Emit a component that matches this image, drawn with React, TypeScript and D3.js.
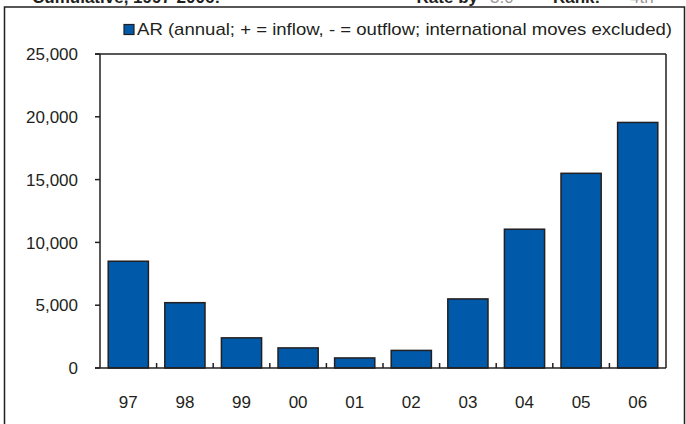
import * as d3 from 'd3';

const years = ['97', '98', '99', '00', '01', '02', '03', '04', '05', '06'];
const arFlow = [8500, 5200, 2400, 1600, 800, 1400, 5500, 11050, 15500, 19550];
const yTicks = [0, 5000, 10000, 15000, 20000, 25000];
const legendLabel = 'AR (annual; + = inflow, - = outflow; international moves excluded)';

const W = 686;
const H = 424;
const plot = { left: 100, right: 666, top: 54, bottom: 368 };
const font = "'Liberation Sans', Arial, sans-serif";
const barFill = '#005aa9';
const ink = '#231f20';

export default function App() {
  const x = d3
    .scaleBand<string>()
    .domain(years)
    .range([plot.left, plot.right])
    .paddingInner(0.29)
    .paddingOuter(0.145);

  const y = d3.scaleLinear().domain([0, 25000]).range([plot.bottom, plot.top]);
  const fmt = d3.format(',');
  const step = x.step();

  return (
    <svg
      width={W}
      height={H}
      style={{ position: 'absolute', left: 0, top: 0, background: '#fff' }}
      fontFamily={font}
    >
      {/* clipped header from the page above */}
      <text x={32} y={3} fontSize={17} fontWeight="bold" fill={ink}>
        Cumulative, 1997-2006:
      </text>
      <text x={478} y={3} fontSize={17} fontWeight="bold" fill={ink} textAnchor="end">
        Rate by
      </text>
      <text x={490} y={3} fontSize={17} fill="#999">
        3.0
      </text>
      <text x={553} y={3} fontSize={17} fontWeight="bold" fill={ink}>
        Rank:
      </text>
      <text x={630} y={3} fontSize={17} fill="#999">
        4th
      </text>

      {/* outer frame */}
      <rect x={4.5} y={7} width={680} height={430} fill="none" stroke={ink} strokeWidth={1.5} />

      {/* legend */}
      <rect x={124} y={24.5} width={10} height={10} fill={barFill} stroke={ink} strokeWidth={1.2} />
      <text
        x={137}
        y={35}
        fontSize={17}
        fill={ink}
        textLength={535}
        lengthAdjust="spacingAndGlyphs"
      >
        {legendLabel}
      </text>

      {/* bars */}
      {years.map((yr, i) => (
        <rect
          key={yr}
          x={x(yr)}
          y={y(arFlow[i])}
          width={x.bandwidth()}
          height={y(0) - y(arFlow[i])}
          fill={barFill}
          stroke={ink}
          strokeWidth={1.5}
        />
      ))}

      {/* plot frame */}
      <line x1={plot.left - 5} x2={plot.right} y1={plot.top} y2={plot.top} stroke={ink} strokeWidth={1.5} />
      <line x1={plot.right} x2={plot.right} y1={plot.top} y2={plot.bottom} stroke={ink} strokeWidth={1.5} />
      <line x1={plot.left} x2={plot.left} y1={plot.top} y2={plot.bottom} stroke={ink} strokeWidth={1.5} />
      <line x1={plot.left - 5} x2={plot.right} y1={plot.bottom} y2={plot.bottom} stroke={ink} strokeWidth={1.5} />

      {/* y axis */}
      {yTicks.map((t) => (
        <g key={t} transform={`translate(0, ${y(t)})`}>
          <line x1={plot.left - 5} x2={plot.left} stroke={ink} strokeWidth={1.5} />
          <text x={78} dy="0.36em" fontSize={17} fill={ink} textAnchor="end">
            {fmt(t)}
          </text>
        </g>
      ))}

      {/* x axis */}
      {years.slice(1).map((yr) => (
        <line
          key={yr}
          x1={(x(yr) ?? 0) - step * 0.145}
          x2={(x(yr) ?? 0) - step * 0.145}
          y1={plot.bottom}
          y2={plot.bottom - 5}
          stroke={ink}
          strokeWidth={1.5}
        />
      ))}
      {years.map((yr) => (
        <text
          key={yr}
          x={(x(yr) ?? 0) + x.bandwidth() / 2}
          y={407.5}
          fontSize={17}
          fill={ink}
          textAnchor="middle"
        >
          {yr}
        </text>
      ))}
    </svg>
  );
}
